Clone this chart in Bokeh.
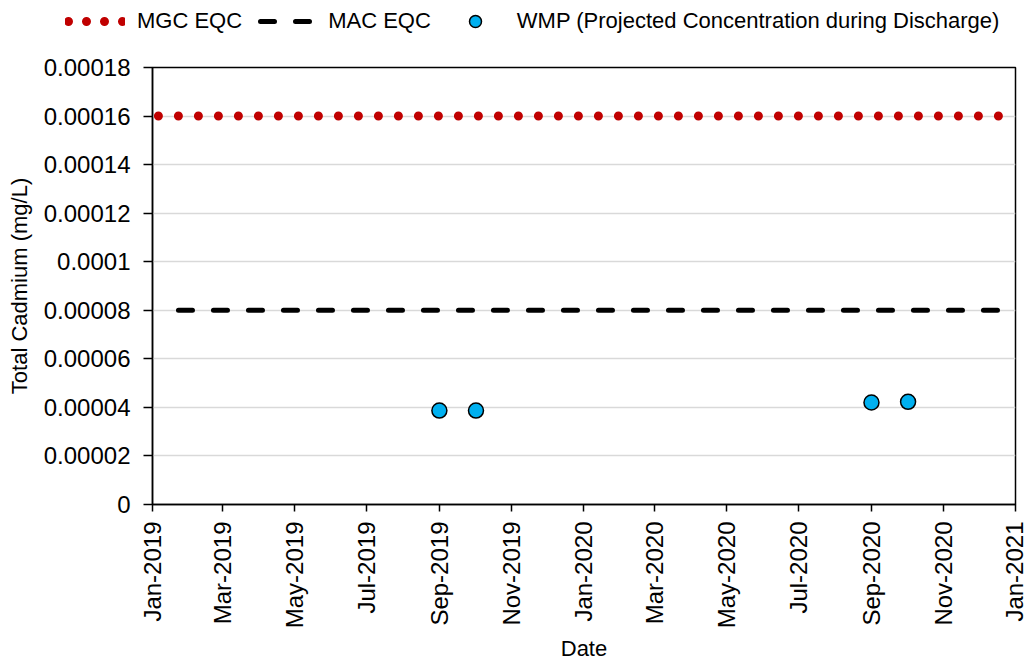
import math
import pandas as pd
from bokeh.plotting import figure
from bokeh.layouts import column
from bokeh.models import (FixedTicker, DatetimeTickFormatter, CustomJSTickFormatter,
                          Legend, LegendItem, ColumnDataSource, Range1d)
from bokeh.embed import file_html
from bokeh.resources import INLINE

# ---- data ----
wmp_dates = ["2019-09-01", "2019-10-02", "2020-09-01", "2020-10-02"]
wmp_values = [0.0000387, 0.0000387, 0.0000420, 0.0000423]

mgc_dates = ["2019-01-06", "2021-01-01"]
mgc_values = [0.00016, 0.00016]
mac_dates = ["2019-01-23", "2021-01-01"]
mac_values = [0.00008, 0.00008]

series_labels = ["MGC EQC", "MAC EQC", "WMP (Projected Concentration during Discharge)"]

x_start, x_end = "2019-01-01", "2021-01-01"
x_tick_dates = pd.date_range("2019-01-01", "2021-01-01", freq="2MS")
y_ticks = [0, 0.00002, 0.00004, 0.00006, 0.00008, 0.0001, 0.00012, 0.00014, 0.00016, 0.00018]
y_max = 0.00018

FONT = "Liberation Sans"
TOTAL_W = 1027

def ms(d):
    return pd.Timestamp(d).value / 1e6

mgc_style = dict(line_color="#c00000", line_width=9, line_dash="0 20", line_cap="round")
mac_style = dict(line_color="black", line_width=5, line_dash="14 21", line_cap="round")
pt_style = dict(fill_color="#00b0f0", line_color="black", line_width=1.5)

# ---- legend strip (proxy renderers sit outside its visible range) ----
lf = figure(width=TOTAL_W, height=40, output_backend="svg", toolbar_location=None,
            x_range=Range1d(0, 1), y_range=Range1d(0, 1),
            x_axis_location=None, y_axis_location=None,
            min_border_left=0, min_border_right=0, min_border_top=0, min_border_bottom=0)
lf.frame_align = False
lf.outline_line_color = None
lf.xgrid.grid_line_color = None
lf.ygrid.grid_line_color = None
proxy = ColumnDataSource(dict(x=[5, 6], y=[5, 5]))
lg1 = lf.line("x", "y", source=proxy, line_color="#c00000", line_width=9,
              line_dash="0 18", line_dash_offset=15, line_cap="round")
lg2 = lf.line("x", "y", source=proxy, line_dash_offset=31, **mac_style)
lg3 = lf.scatter("x", "y", source=proxy, size=15, marker="circle", **pt_style)
legend = Legend(items=[LegendItem(label=series_labels[0], renderers=[lg1]),
                       LegendItem(label=series_labels[1], renderers=[lg2]),
                       LegendItem(label=series_labels[2], renderers=[lg3])],
                orientation="horizontal", location=(65, 4),
                glyph_width=60, glyph_height=30, label_standoff=12, spacing=14,
                padding=0, margin=0, background_fill_alpha=0, border_line_alpha=0,
                label_text_font=FONT, label_text_font_size="22px", label_text_color="black")
lf.add_layout(legend, "center")

# ---- main chart ----
p = figure(frame_width=863, frame_height=437, x_axis_type="datetime",
           output_backend="svg", toolbar_location=None,
           x_range=Range1d(ms(x_start), ms(x_end)), y_range=Range1d(0, y_max),
           min_border_left=152, min_border_right=12, min_border_top=27,
           min_border_bottom=155)
p.frame_align = False
p.background_fill_color = "white"
p.outline_line_color = "black"
p.outline_line_width = 1.5

mgc_src = ColumnDataSource(dict(x=[pd.Timestamp(d) for d in mgc_dates], y=mgc_values))
mac_src = ColumnDataSource(dict(x=[pd.Timestamp(d) for d in mac_dates], y=mac_values))
pt_src = ColumnDataSource(dict(x=[pd.Timestamp(d) for d in wmp_dates], y=wmp_values))

p.line("x", "y", source=mgc_src, **mgc_style)
p.line("x", "y", source=mac_src, **mac_style)
p.scatter("x", "y", source=pt_src, size=15, marker="circle", **pt_style)

p.xaxis.ticker = FixedTicker(ticks=[ms(d) for d in x_tick_dates])
fmt = "%b-%Y"
p.xaxis.formatter = DatetimeTickFormatter(days=fmt, months=fmt, years=fmt, hours=fmt,
                                          minutes=fmt, seconds=fmt, milliseconds=fmt,
                                          microseconds=fmt, minsec=fmt, hourmin=fmt)
p.xaxis.major_label_orientation = math.pi / 2
p.yaxis.ticker = FixedTicker(ticks=y_ticks)
p.yaxis.formatter = CustomJSTickFormatter(code="return String(Number(tick.toFixed(6)));")

for ax in (p.xaxis, p.yaxis):
    ax.axis_line_color = "black"
    ax.axis_line_width = 1.5
    ax.major_tick_line_color = "black"
    ax.major_tick_line_width = 1.5
    ax.major_tick_in = 0
    ax.minor_tick_line_color = None
    ax.major_label_text_font = FONT
    ax.major_label_text_color = "black"
    ax.axis_label_text_font = FONT
    ax.axis_label_text_font_size = "22px"
    ax.axis_label_text_font_style = "normal"
    ax.axis_label_text_color = "black"

p.xaxis.major_tick_out = 7
p.yaxis.major_tick_out = 9
p.xaxis.major_label_text_font_size = "24px"
p.yaxis.major_label_text_font_size = "24px"
p.xaxis.axis_label = "Date"
p.yaxis.axis_label = "Total Cadmium (mg/L)"
p.xaxis.major_label_standoff = 10
p.yaxis.major_label_standoff = 13
p.xaxis.axis_label_standoff = 5
p.yaxis.axis_label_standoff = 9

p.xgrid.grid_line_color = None
p.ygrid.grid_line_color = "#d9d9d9"
p.ygrid.grid_line_width = 1.5

layout = column(lf, p, spacing=0)
open("out.html", "w").write(file_html(layout, INLINE))
